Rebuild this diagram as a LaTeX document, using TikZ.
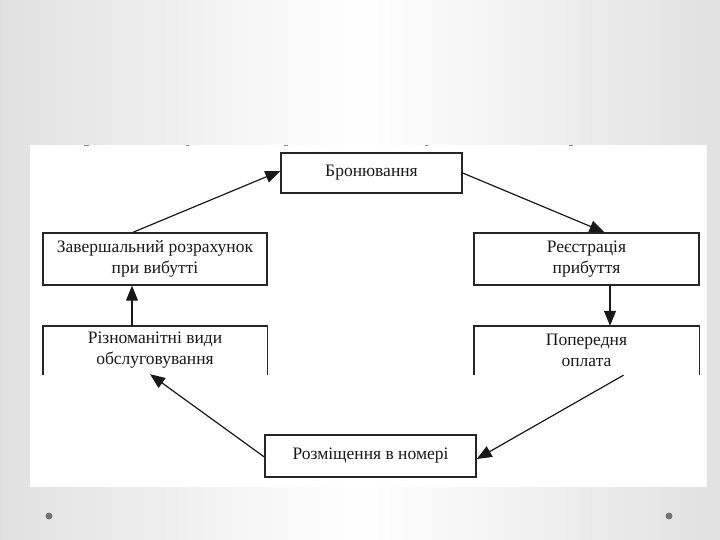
\documentclass[tikz,border=0pt]{standalone}
\usepackage{fontspec}
\setmainfont{Liberation Serif}
\usetikzlibrary{arrows.meta}
\begin{document}
\begin{tikzpicture}[x=1bp,y=-1bp,
  box/.style={draw=black!85, line width=1.4bp, fill=white, align=center, inner sep=0pt,
    font=\fontsize{17.5bp}{21bp}\selectfont, text=black!90},
  openbox/.style={draw=none, fill=white, align=center, inner sep=0pt,
    font=\fontsize{17.5bp}{21bp}\selectfont, text=black!90},
  side/.style={draw=black!85, line width=1.4bp},
  link/.style={draw=black!90, line width=1.2bp, -{Triangle[length=15bp,width=12bp]}},
  tick/.style={draw=black!45, line width=1.5bp},
  dot/.style={fill=black!55, draw=none}]
% background
\shade[left color=black!12, right color=black!12, middle color=white] (0,0) rectangle (720,540);
\useasboundingbox (0,0) rectangle (720,540);
\fill[white] (30,145) rectangle (707,487);
% scan marks
\draw[tick] (84,145.5) -- (89,145.5);
\draw[tick] (186,145.5) -- (189,145.5);
\draw[tick] (284,145.5) -- (288,145.5);
\draw[tick] (425,145.5) -- (428,145.5);
\draw[tick] (569,145.5) -- (573,145.5);
% corner dots
\fill[dot] (49,516) circle (3.5);
\fill[dot] (669,516) circle (3.5);
% boxes
\node[box, minimum width=181bp, minimum height=40bp] (top) at (371.5,173) {Бронювання};
\node[box, minimum width=224bp, minimum height=52bp] (l1) at (155,259) {Завершальний розрахунок\\при вибутті};
\node[openbox, minimum width=224bp, minimum height=49bp] (l2) at (155,350.5) {Різноманітні види\\обслуговування};
\node[box, minimum width=225bp, minimum height=52bp] (r1) at (586.5,259) {Реєстрація\\прибуття};
\node[openbox, minimum width=225bp, minimum height=49bp] (r2) at (586.5,350.5) {Попередня\\оплата};
\node[box, minimum width=211bp, minimum height=42bp] (bot) at (370.5,456) {Розміщення в номері};
\draw[side] (l2.south west) -- (l2.north west) -- (l2.north east) -- (l2.south east);
\draw[side] (r2.south west) -- (r2.north west) -- (r2.north east) -- (r2.south east);
% connectors
\draw[link] ([xshift=-22bp]l1.north) -- ([yshift=2bp]top.west);
\draw[link] (top.east) -- ([xshift=18bp]r1.north);
\draw[link] ([xshift=23.5bp]r1.south) -- ([xshift=23.5bp]r2.north);
\draw[link] ([xshift=37bp]r2.south) -- ([yshift=-3bp]bot.east);
\draw[link] ([yshift=-1bp]bot.west) -- ([xshift=-5bp,yshift=1bp]l2.south);
\draw[link] ([xshift=-23bp]l2.north) -- ([xshift=-23bp]l1.south);
\end{tikzpicture}
\end{document}
